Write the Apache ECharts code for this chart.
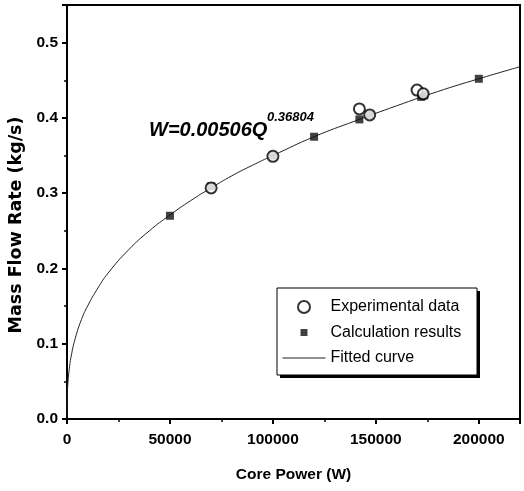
<!DOCTYPE html>
<html>
<head>
<meta charset="utf-8">
<script src="https://cdn.jsdelivr.net/npm/echarts@6/dist/echarts.min.js"></script>
<style>html,body{margin:0;padding:0;background:#fff}#c{width:524px;height:491px}</style>
</head>
<body>
<div id="c"></div>
<script>
// Calculation results (filled squares)
var calcQ = [50000, 70000, 100000, 120000, 142000, 147000, 172000, 173500, 200000];
var calcW = [0.270, 0.309, 0.350, 0.375, 0.398, 0.404, 0.428, 0.430, 0.452];
// Experimental data (open circles)
var expQ = [70000, 100000, 142000, 147000, 170000, 173000];
var expW = [0.307, 0.349, 0.412, 0.404, 0.437, 0.432];
// Fitted curve
var curveQ = [0, 100, 250, 500, 1000, 2000, 4000, 7000, 10000, 15000, 20000, 30000, 40000, 50000, 60000, 70000, 80000, 90000, 100000, 120000, 140000, 160000, 180000, 200000, 220000];
var curveW = [0, 0.028, 0.039, 0.050, 0.064, 0.083, 0.107, 0.132, 0.150, 0.174, 0.194, 0.225, 0.250, 0.271, 0.290, 0.307, 0.323, 0.337, 0.350, 0.375, 0.396, 0.416, 0.435, 0.452, 0.468];
var xTicks = [0, 50000, 100000, 150000, 200000];
var yTicks = [0.0, 0.1, 0.2, 0.3, 0.4, 0.5];

function pairs(a, b) { return a.map(function (v, i) { return [v, b[i]]; }); }

var chart = echarts.init(document.getElementById('c'), null, {renderer: 'canvas'});
var F = '"Liberation Sans", Arial, sans-serif';
chart.setOption({
  animation: false,
  backgroundColor: '#fff',
  grid: {left: 67, right: 4, top: 5, bottom: 72, show: true, borderColor: '#000', borderWidth: 2,
    backgroundColor: 'transparent', containLabel: false, outerBoundsMode: 'none'},
  xAxis: {
    type: 'value', min: 0, max: 220000, interval: 50000,
    name: 'Core Power (W)', nameLocation: 'middle', nameGap: 48,
    nameTextStyle: {fontFamily: F, fontWeight: 'bold', fontSize: 15.5, color: '#000'},
    axisLine: {lineStyle: {color: '#000', width: 2}},
    axisTick: {show: true, inside: false, length: 5, lineStyle: {color: '#000', width: 2}},
    minorTick: {show: true, splitNumber: 2, length: 3, lineStyle: {color: '#000', width: 1.5}},
    splitLine: {show: false},
    axisLabel: {fontFamily: F, fontWeight: 'bold', fontSize: 15.5, color: '#000', margin: 13,
      showMaxLabel: false,
      formatter: function (v) { return xTicks.indexOf(v) >= 0 ? String(v) : ''; }}
  },
  yAxis: {
    type: 'value', min: 0, max: 0.55, interval: 0.1,
    name: 'Mass Flow Rate (kg/s)', nameLocation: 'middle', nameGap: 40,
    nameTextStyle: {fontFamily: '"DejaVu Sans", sans-serif', fontWeight: 'bold', fontSize: 17.5, color: '#000', padding: [0, 26, 0, 0]},
    axisLine: {lineStyle: {color: '#000', width: 2}},
    axisTick: {show: true, inside: false, length: 5, lineStyle: {color: '#000', width: 2}},
    minorTick: {show: true, splitNumber: 2, length: 3, lineStyle: {color: '#000', width: 1.5}},
    splitLine: {show: false},
    axisLabel: {fontFamily: F, fontWeight: 'bold', fontSize: 15.5, color: '#000', margin: 9,
      formatter: function (v) {
        for (var i = 0; i < yTicks.length; i++) { if (Math.abs(yTicks[i] - v) < 1e-9) return yTicks[i].toFixed(1); }
        return '';
      }}
  },
  legend: {
    orient: 'vertical', left: 282, top: 297, z: 10,
    padding: 0, itemGap: 5.5, itemWidth: 43, itemHeight: 12,
    textStyle: {fontFamily: F, fontSize: 16, color: '#000', lineHeight: 20},
    data: [
      {name: 'Experimental data', icon: 'emptyCircle'},
      {name: 'Calculation results', icon: 'path://M0,0M12,12M2.5,2.5L9.5,2.5L9.5,9.5L2.5,9.5Z'},
      {name: 'Fitted curve', itemStyle: {opacity: 0}, lineStyle: {color: '#222', width: 1, opacity: 1}}
    ]
  },
  graphic: [
    {type: 'rect', z: 5, shape: {x: 280, y: 291, width: 200, height: 87}, style: {fill: '#000'}},
    {type: 'rect', z: 6, shape: {x: 277, y: 288, width: 200, height: 87}, style: {fill: '#fff', stroke: '#000', lineWidth: 1}},
    {type: 'text', left: 149, top: 120, style: {text: 'W=0.00506Q',
      fontFamily: F, fontWeight: 'bold', fontStyle: 'italic', fontSize: 20, fill: '#000'}},
    {type: 'text', left: 267, top: 111, style: {text: '0.36804',
      fontFamily: F, fontWeight: 'bold', fontStyle: 'italic', fontSize: 13, fill: '#000'}}
  ],
  series: [
    {name: 'Fitted curve', type: 'line', data: pairs(curveQ, curveW), smooth: true, symbol: 'none',
      lineStyle: {color: '#222', width: 1}, itemStyle: {color: '#222'}, z: 2},
    {name: 'Calculation results', type: 'scatter', data: pairs(calcQ, calcW), symbol: 'rect', symbolSize: 8,
      itemStyle: {color: '#111'}, z: 3},
    {name: 'Experimental data', type: 'scatter', data: pairs(expQ, expW), symbol: 'emptyCircle', symbolSize: 11,
      itemStyle: {color: '#000', borderColor: '#000', borderWidth: 1.5}, z: 4}
  ]
});
</script>
</body>
</html>
